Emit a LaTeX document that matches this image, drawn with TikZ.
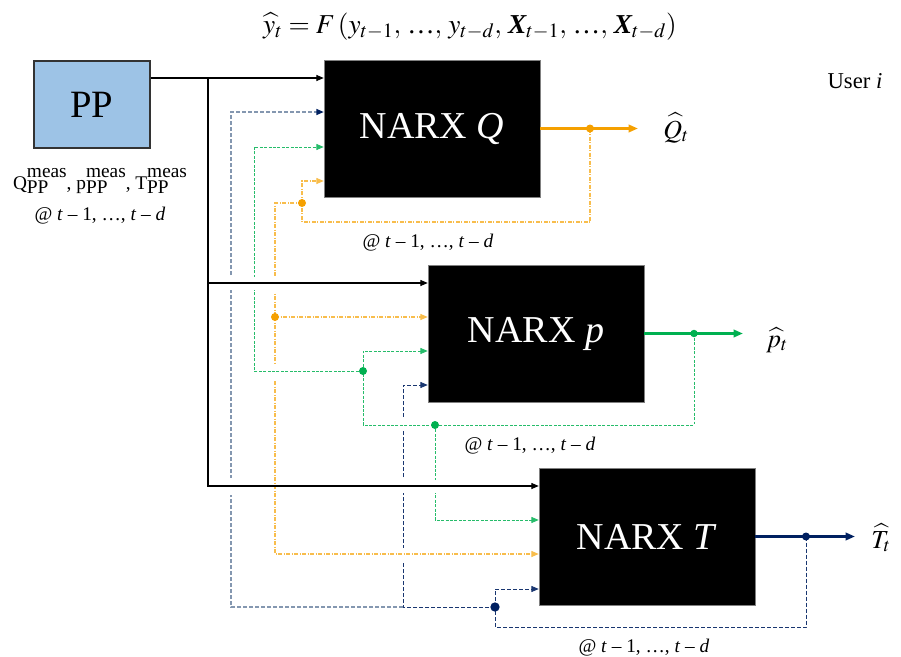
\documentclass[tikz,border=0pt]{standalone}
\usepackage{mathptmx}
\usepackage{fontspec}
\setmainfont{Liberation Serif}
\usetikzlibrary{arrows.meta,calc}

\definecolor{ppblue}{HTML}{9DC3E6}
\definecolor{cor}{HTML}{F5A000}
\definecolor{cgr}{HTML}{00B050}
\definecolor{cnv}{HTML}{002060}
\definecolor{cnvl}{HTML}{8497B0}

% superscript "meas" over subscript "PP", both at text size
\newcommand\measpp{\raisebox{-0.25em}{\rlap{PP}}\raisebox{0.6em}{meas}}
\newcommand\lagtext{@ \textit{t} – 1, …, \textit{t} – \textit{d}}
\newcommand\bX{\mbox{\bfseries\itshape X}}
\newcommand\hdots{\mbox{…}}

\tikzset{
  narx/.style={draw=gray, fill=black, text=white, minimum width=162pt,
    minimum height=102.75pt, inner sep=0pt, font=\fontsize{28.5}{30}\selectfont},
  ppbox/.style={draw=black!80, line width=1.1pt, fill=ppblue, minimum width=87pt,
    minimum height=65.25pt, inner sep=0pt, font=\fontsize{29}{30}\selectfont},
  lab/.style={inner sep=0pt, font=\fontsize{14.5}{17}\selectfont},
  outlab/.style={inner sep=0pt, font=\fontsize{19.5}{22}\selectfont},
  tip/.style={-{Triangle[length=5.5pt,width=4.5pt]}},
  tipnv/.style={-{Triangle[length=5.5pt,width=4.5pt,color=cnv]}},
  blackline/.style={draw=black, line width=0.8pt},
  orfb/.style={draw=cor!70, line width=0.8pt,
    dash pattern=on 3pt off 1.2pt on 0.6pt off 1.2pt},
  grfb/.style={draw=cgr!85, line width=0.75pt, dash pattern=on 2.2pt off 1.1pt},
  nvfb/.style={draw=cnv!90, line width=0.65pt, dash pattern=on 3pt off 1.5pt},
  nvfbl/.style={draw=cnvl, line width=0.9pt, dash pattern=on 3pt off 1.5pt},
  outline/.style={line width=2pt, -{Triangle[length=7pt,width=5.5pt]}},
  gapmark/.style={fill=white}
}

\begin{document}
\begin{tikzpicture}[x=0.75pt,y=-0.75pt]
\useasboundingbox (0,0) rectangle (901,657);

% blocks
\node[ppbox] (pp) at (92,104.5) {PP};
\node[narx] (Q) at (432,128.5) {NARX \textit{Q}};
\node[narx] (p) at (536,333.5) {NARX \textit{p}};
\node[narx] (T) at (647,536.5) {NARX \textit{T}};

% texts
\node[anchor=base, inner sep=0pt, font=\fontsize{20.5}{24}\selectfont] (title) at (470,33)
  {$\widehat{y}_t = F\,(y_{t-1},\, \hdots,\, y_{t-d},\, \bX_{t-1},\, \hdots,\, \bX_{t-d})$};
\node[anchor=base, inner sep=0pt, font=\fontsize{17}{20}\selectfont] (user) at (855,88) {User \textit{i}};
\node[anchor=base, lab] (meas) at (100,189) {Q\measpp, p\measpp, T\measpp};
\node[anchor=base, lab] (at0) at (100,220) {\lagtext};
\node[anchor=base, lab] (atQ) at (428,247) {\lagtext};
\node[anchor=base, lab] (atp) at (530,450) {\lagtext};
\node[anchor=base, lab] (atT) at (644,652) {\lagtext};
\node[anchor=base west, outlab] (qhat) at (663,138) {$\widehat{Q}_t$};
\node[anchor=base west, outlab] (phat) at (766,347) {$\widehat{p}_t$};
\node[anchor=base west, outlab] (That) at (871,548) {$\widehat{T}_t$};

% branch points
\coordinate (qo) at (590,128.5); \coordinate (qend) at (638,128.5);
\coordinate (po) at (694,333.5); \coordinate (pend) at (743,333.5);
\coordinate (to) at (806,536.5); \coordinate (tend) at (855,536.5);
\coordinate (qd) at (302,203);   \coordinate (pd) at (275,317);
\coordinate (ga) at (363,371);   \coordinate (gb) at (435,425);
\coordinate (na) at (495,607);   \coordinate (nb) at (403,607);
\coordinate (tk) at (208,78);

% T feedback (navy)
\draw[nvfb] (to) |- (na |- 0,627) -- (na);
\draw[nvfb,tip] (na) |- (T.west |- 0,589);
\draw[nvfb,tip] (na) -- (nb) |- (p.west |- 0,385);
\draw[nvfbl,tipnv] (nb) -| (231,112) -- (Q.west |- 0,112);
\fill[gapmark] (227,277) rectangle (235,290);
\fill[gapmark] (227,478) rectangle (235,495);
\fill[gapmark] (399,417) rectangle (407,430);
\fill[gapmark] (399,478) rectangle (407,493);
\fill[gapmark] (399,548) rectangle (407,562);

% Q feedback (orange)
\draw[orfb] (qo) |- (qd |- 0,222) -- (qd);
\draw[orfb,tip] (qd) |- (Q.west |- 0,181);
\draw[orfb] (qd) -| (pd);
\draw[orfb,tip] (pd) |- (T.west |- 0,554);
\draw[orfb,tip] (pd) -- (p.west |- pd);
\fill[gapmark] (271,277) rectangle (279,292);
\fill[gapmark] (271,364) rectangle (279,380);

% p feedback (green)
\draw[grfb] (po) |- (ga |- gb) -- (ga);
\draw[grfb,tip] (ga) |- (p.west |- 0,351);
\draw[grfb,tip] (ga) -| (254,147) -- (Q.west |- 0,147);
\draw[grfb,tip] (gb) |- (T.west |- 0,520);
\fill[gapmark] (250,277) rectangle (258,290);
\fill[gapmark] (431,480) rectangle (439,493);

% measured inputs from PP
\draw[blackline,tip] (pp.east |- tk) -- (Q.west |- tk);
\draw[blackline,tip] (tk) |- (T.west |- 0,486);
\draw[blackline,tip] (tk |- 0,283) -- (p.west |- 0,283);

% predicted outputs
\draw[outline, cor] (Q.east) -- (qend);
\draw[outline, cgr] (p.east) -- (pend);
\draw[outline, cnv] (T.east) -- (tend);

% junction dots
\fill[cor] (qo) circle[radius=3pt];
\fill[cor] (qd) circle[radius=3pt];
\fill[cor] (pd) circle[radius=3pt];
\fill[cgr] (po) circle[radius=2.8pt];
\fill[cgr] (ga) circle[radius=3pt];
\fill[cgr] (gb) circle[radius=3pt];
\fill[cnv] (to) circle[radius=3pt];
\fill[cnv] (na) circle[radius=3.5pt];
\end{tikzpicture}
\end{document}
